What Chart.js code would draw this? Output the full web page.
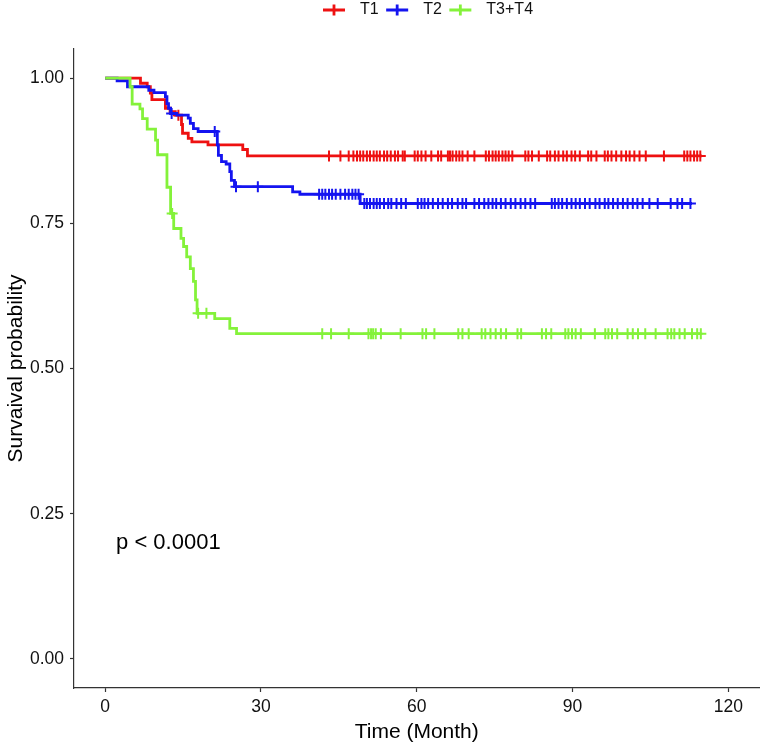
<!DOCTYPE html>
<html><head><meta charset="utf-8">
<script src="https://cdn.jsdelivr.net/npm/chart.js@4.4.0/dist/chart.umd.min.js"></script>
<style>html,body{margin:0;padding:0;background:#fff;}#wrap{width:767px;height:745px;}</style>
</head><body><div id="wrap"><canvas id="c" width="767" height="745"></canvas></div>
<script>
const groups = ['T1', 'T2', 'T3+T4'];
const colors = ['#ee1111', '#1414f0', '#84f23a'];

// Kaplan-Meier step points (time in months, survival probability)
const t1Times = [0, 6.8, 8.1, 8.7, 9.0, 11.6, 12.5, 13.5, 14.7, 14.9, 16.0, 16.7, 19.8, 26.5, 27.4, 114.9];
const t1Surv  = [1, 0.991, 0.985, 0.974, 0.963, 0.948, 0.942, 0.936, 0.920, 0.905, 0.896, 0.890, 0.885, 0.877, 0.866, 0.866];
const t1Censor = [14.1, 43.1, 45.3, 46.9, 47.8, 48.5, 49.1, 49.7, 50.4, 51.0, 51.7, 52.3, 52.9, 53.7, 54.3, 55.0, 55.8, 56.4, 57.3, 57.7, 59.6, 60.2, 60.9, 61.7, 62.8, 64.1, 64.7, 66.0, 66.4, 66.9, 67.6, 68.2, 68.8, 69.8, 71.1, 73.3, 73.9, 74.6, 75.2, 75.8, 76.5, 77.1, 77.7, 78.4, 80.9, 81.5, 82.2, 83.5, 85.1, 85.7, 86.6, 87.3, 88.2, 88.9, 89.8, 90.5, 91.4, 93.0, 93.6, 94.6, 96.2, 96.8, 97.5, 98.4, 99.4, 100.3, 101.0, 101.9, 102.9, 104.1, 107.6, 111.5, 112.1, 112.7, 113.4, 114.0, 114.6];

const t2Times = [0, 2.3, 4.3, 8.4, 9.4, 11.6, 11.9, 12.2, 12.6, 13.8, 16.0, 16.4, 17.0, 17.9, 21.6, 21.8, 22.4, 23.3, 24.0, 24.3, 24.9, 36.1, 37.5, 49.1, 113.0];
const t2Surv  = [1, 0.995, 0.985, 0.979, 0.975, 0.968, 0.956, 0.948, 0.939, 0.936, 0.931, 0.922, 0.913, 0.908, 0.885, 0.867, 0.856, 0.852, 0.839, 0.824, 0.813, 0.804, 0.800, 0.784, 0.784];
const t2Censor = [12.8, 21.1, 25.2, 29.4, 41.2, 41.8, 42.4, 43.1, 43.7, 44.4, 45.3, 46.2, 46.9, 47.6, 48.2, 48.8, 49.9, 50.4, 51.0, 51.7, 52.3, 52.9, 53.7, 54.5, 55.1, 56.1, 57.0, 57.9, 60.2, 60.9, 61.5, 62.2, 63.1, 64.1, 65.0, 66.0, 66.8, 67.9, 68.8, 69.5, 71.1, 72.0, 73.0, 73.8, 74.6, 75.3, 76.2, 77.1, 78.1, 79.0, 80.0, 80.9, 81.9, 82.8, 86.0, 86.6, 87.3, 88.0, 88.9, 89.8, 90.6, 91.4, 92.4, 93.3, 94.4, 95.2, 96.2, 96.9, 97.8, 98.7, 99.7, 100.6, 101.6, 102.5, 103.5, 104.8, 106.4, 108.9, 110.2, 111.1, 112.7];

const t34Times = [0, 4.8, 5.2, 6.7, 7.2, 8.1, 9.7, 10.1, 11.9, 12.6, 13.2, 14.6, 15.1, 15.7, 16.4, 17.0, 17.4, 17.7, 21.1, 24.0, 25.3, 114.7];
const t34Surv  = [1, 0.985, 0.955, 0.947, 0.930, 0.912, 0.893, 0.868, 0.812, 0.767, 0.741, 0.724, 0.710, 0.692, 0.672, 0.650, 0.618, 0.595, 0.586, 0.569, 0.560, 0.560];
const t34Censor = [12.9, 17.9, 19.5, 41.8, 43.5, 46.9, 50.7, 51.2, 51.6, 52.1, 53.1, 56.9, 61.1, 61.8, 63.4, 68.0, 68.8, 70.0, 72.5, 73.2, 74.2, 75.2, 76.2, 77.2, 79.4, 80.1, 84.1, 84.9, 85.9, 88.6, 89.2, 89.9, 90.6, 91.6, 94.3, 96.3, 96.9, 97.6, 98.6, 100.6, 101.6, 102.6, 104.0, 106.0, 108.3, 109.0, 109.6, 110.6, 111.6, 113.0, 114.0, 114.7];

const xTicks = [0, 30, 60, 90, 120];
const yTicks = [0, 0.25, 0.5, 0.75, 1];
const xLabel = 'Time (Month)';
const yLabel = 'Survaival probability';
const pText = 'p < 0.0001';
const pX = 2.1, pY = 0.2;

const FONT = '"Liberation Sans", Arial, sans-serif';

function survAt(times, surv, t) {
  let s = surv[0];
  for (let i = 0; i < times.length; i++) if (times[i] <= t) s = surv[i];
  return s;
}
const series = [
  {times: t1Times, surv: t1Surv, cens: t1Censor, order: 2},
  {times: t2Times, surv: t2Surv, cens: t2Censor, order: 1},
  {times: t34Times, surv: t34Surv, cens: t34Censor, order: 0}
];
const datasets = [];
series.forEach((s, i) => {
  datasets.push({
    label: groups[i],
    data: s.times.map((t, k) => ({x: t, y: s.surv[k]})),
    showLine: true, stepped: 'before',
    borderColor: colors[i], borderWidth: 2.8, pointRadius: 0,
    order: s.order
  });
  datasets.push({
    label: groups[i] + ' censor',
    data: s.cens.map(t => ({x: t, y: survAt(s.times, s.surv, t)})),
    showLine: false, pointStyle: 'cross', pointRadius: 5.5,
    borderColor: colors[i], backgroundColor: colors[i], pointBorderWidth: 2,
    order: s.order
  });
});

const annot = {
  id: 'annot',
  afterDraw(chart) {
    const ctx = chart.ctx;
    ctx.save();
    ctx.font = '16px ' + FONT;
    ctx.textBaseline = 'middle';
    ctx.textAlign = 'left';
    let x = 323; const y = 10;
    groups.forEach((g, i) => {
      ctx.strokeStyle = colors[i]; ctx.lineWidth = 2.8;
      ctx.beginPath();
      ctx.moveTo(x, y); ctx.lineTo(x + 22, y);
      ctx.moveTo(x + 11, y - 5.5); ctx.lineTo(x + 11, y + 5.5);
      ctx.stroke();
      ctx.fillStyle = '#111';
      ctx.fillText(g, x + 37, y);
      x += 37 + ctx.measureText(g).width + 7.5;
    });
    const xs = chart.scales.x, ys = chart.scales.y;
    ctx.font = '22px ' + FONT;
    ctx.fillStyle = '#000';
    ctx.fillText(pText, xs.getPixelForValue(pX), ys.getPixelForValue(pY));
    ctx.restore();
  }
};

new Chart(document.getElementById('c'), {
  type: 'scatter',
  data: {datasets},
  options: {
    responsive: false, animation: false, devicePixelRatio: 1,
    layout: {padding: {top: 49, right: 2, left: 0, bottom: 0}},
    plugins: {legend: {display: false}, tooltip: {enabled: false}},
    scales: {
      x: {
        type: 'linear', min: -6, max: 126,
        afterBuildTicks: s => { s.ticks = xTicks.map(v => ({value: v})); },
        afterFit: s => { s.height = 57; },
        grid: {drawOnChartArea: false, drawTicks: true, tickLength: 4, tickColor: '#333', tickWidth: 1.2},
        border: {display: true, color: '#333', width: 1.2},
        ticks: {font: {family: FONT, size: 17.5}, color: '#111', padding: 5, maxRotation: 0},
        title: {display: true, text: xLabel, font: {family: FONT, size: 21}, color: '#000', padding: {top: 0, bottom: 0}}
      },
      y: {
        type: 'linear', min: -0.05, max: 1.05,
        afterBuildTicks: s => { s.ticks = yTicks.map(v => ({value: v})); },
        afterFit: s => { s.width = 74; },
        grid: {drawOnChartArea: false, drawTicks: true, tickLength: 4, tickColor: '#333', tickWidth: 1.2},
        border: {display: true, color: '#333', width: 1.2},
        ticks: {font: {family: FONT, size: 17.5}, color: '#111', padding: 6, callback: v => Number(v).toFixed(2)},
        title: {display: true, text: yLabel, font: {family: FONT, size: 21}, color: '#000', padding: {top: 4, bottom: 0}}
      }
    }
  },
  plugins: [annot]
});
</script></body></html>
